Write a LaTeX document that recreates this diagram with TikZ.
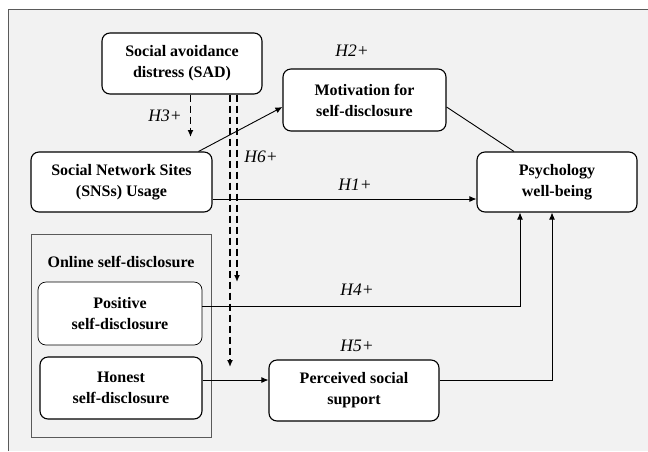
\documentclass[tikz,border=0pt]{standalone}
\usepackage{fontspec}
\setmainfont{Liberation Serif}
\usetikzlibrary{arrows.meta}
\usetikzlibrary{positioning}
\tikzset{box/.style = {draw, rounded corners = 8pt, fill = white, line width = 1.1pt,
                       align = center, inner sep = 0,
                       font = \bfseries\fontsize{16}{21}\selectfont}}
\tikzset{hyp/.style = {font = \itshape\fontsize{17.5}{20}\selectfont}}
\tikzset{arr/.style = {-{Latex[length = 7pt, width = 6pt]}, line width = 0.9pt}}
\tikzset{dasharr/.style = {arr, line width = 1.6pt, dash pattern = on 7pt off 4pt}}
\definecolor{bggray}{RGB}{242, 242, 242}
\definecolor{framegray}{RGB}{90, 90, 90}

\begin{document}
\begin{tikzpicture}[x = 1pt, y = -1pt]
    \useasboundingbox (0, 0) rectangle (648, 451);
    \fill [bggray] (8, 9) rectangle (648, 451);
    \draw [framegray, line width = 1pt] (8, 451) -- (8, 9) -- (648, 9);

    % constructs
    \node [box, minimum width = 160pt, minimum height = 61pt] (sad) at (182, 63.5)
        {Social avoidance\\distress (SAD)};
    \node [box, minimum width = 163pt, minimum height = 62pt] (motiv) at (364.5, 100)
        {Motivation for\\self-disclosure};
    \node [box, minimum width = 181pt, minimum height = 60pt] (sns) at (121.5, 182)
        {Social Network Sites\\(SNSs) Usage};
    \node [box, minimum width = 160pt, minimum height = 60pt] (psych) at (557, 182)
        {Psychology\\well-being};
    \node [draw = framegray, line width = 0.8pt, minimum width = 180pt, minimum height = 203pt]
        (online) at (121, 335.5) {};
    \node [font = \bfseries\fontsize{16}{21}\selectfont] (otitle) at (121, 262)
        {Online self-disclosure};
    \node [box, line width = 0.7pt, minimum width = 164pt, minimum height = 63pt] (pos) at (120, 313.5)
        {Positive\\self-disclosure};
    \node [box, minimum width = 162pt, minimum height = 62pt] (hon) at (121, 388)
        {Honest\\self-disclosure};
    \node [box, minimum width = 170pt, minimum height = 61pt] (pss) at (354, 390.5)
        {Perceived social\\support};

    % moderation by SAD
    \coordinate (h3end) at (190.5, 137);
    \coordinate (h6long) at (230, 367);
    \coordinate (h6short) at (237, 282);
    \draw [dasharr] (h3end |- sad.south) -- (h3end);
    \draw [dasharr] (h6long |- sad.south) -- (h6long);
    \draw [dasharr] (h6short |- sad.south) -- (h6short);

    % paths
    \draw [arr] ([xshift = -14pt] sns.north east) -- ([yshift = -7pt] motiv.west);
    \draw [line width = 0.9pt] ([yshift = -7pt] motiv.east) -- ([xshift = -43pt] psych.north);
    \draw [arr] ([yshift = -17pt] sns.east) -- ([yshift = -17pt] psych.west);
    \draw [arr] ([yshift = 7.5pt] pos.east) -| ([xshift = -37pt] psych.south);
    \draw [arr] ([yshift = 8pt] hon.east) -- ([yshift = 10.5pt] pss.west);
    \draw [arr] ([yshift = 10.5pt] pss.east) -| ([xshift = -5pt] psych.south);

    % hypothesis labels
    \node [hyp] (h1) at (355, 185) {H1+};
    \node [hyp] (h2) at (352, 51) {H2+};
    \node [hyp] (h3) at (165, 116) {H3+};
    \node [hyp] (h4) at (357, 290) {H4+};
    \node [hyp] (h5) at (357, 346) {H5+};
    \node [hyp] (h6) at (261, 157) {H6+};
\end{tikzpicture}
\end{document}
